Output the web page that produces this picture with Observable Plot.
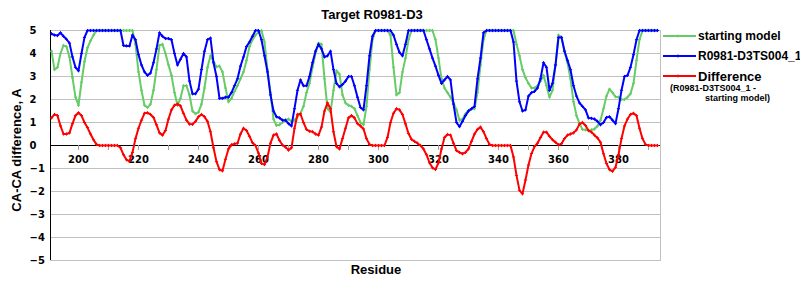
<!DOCTYPE html>
<html>
<head>
<meta charset="utf-8">
<script src="https://cdn.jsdelivr.net/npm/d3@7"></script>
<script src="https://cdn.jsdelivr.net/npm/@observablehq/plot@0.6"></script>
<style>
  html, body { margin: 0; padding: 0; background: #fff; }
  #wrap { position: relative; width: 800px; height: 300px; background: #fff; overflow: hidden; }
  #chart { position: absolute; left: 0; top: 0; }
  .lbl { position: absolute; font-family: "Liberation Sans", Arial, sans-serif; font-weight: bold; color: #000; white-space: nowrap; }
  #title { left: 272px; width: 200px; top: 8px; text-align: center; font-size: 13px; line-height: 14px; }
  #xlab { left: 326px; width: 100px; top: 263px; text-align: center; font-size: 13px; line-height: 14px; }
  #ylab { left: 17px; top: 150px; font-size: 13px; line-height: 14px; transform: translate(-50%, -50%) rotate(-90deg); }
  .legrow { position: absolute; left: 663px; display: flex; align-items: center; }
  .legrow svg { flex: none; }
  .legtext { margin-left: 1px; font-size: 12px; line-height: 13px; }
  .legsub { position: absolute; font-size: 9px; line-height: 10px; }
</style>
</head>
<body>
<div id="wrap">
  <div id="chart"></div>
  <div id="title" class="lbl"></div>
  <div id="ylab" class="lbl"></div>
  <div id="xlab" class="lbl"></div>
  <div id="legend"></div>
</div>
<script>
// ---------- data ----------
const titleText = "Target R0981-D3";
const yTitle = "CA-CA difference, A";
const xTitle = "Residue";
const firstResidue = 191;
const xDomain = [190.67, 394];
const yTicks = [-5, -4, -3, -2, -1, 0, 1, 2, 3, 4, 5];
const xMinorTicks = [200, 210, 220, 230, 240, 250, 260, 270, 280, 290, 300, 310, 320, 330, 340, 350, 360, 370, 380, 390];
const xLabels = [200, 220, 240, 260, 280, 300, 320, 340, 360, 380];

const seriesNames = ["starting model", "R0981-D3TS004_1", "Difference"];
const seriesColors = ["#66cc66", "#0000ff", "#ff0000"];
const diffSubLines = ["(R0981-D3TS004_1 -", "starting model)"];

// starting model (residues 191..393)
const startingModel = [
  4.1, 3.3, 3.4, 4.0, 4.35, 4.3, 3.85, 2.95, 2.1, 1.75,
  2.75, 3.65, 4.25, 4.55, 4.8, 5, 5, 5, 5, 5,
  5, 5, 5, 5, 5, 5, 5, 5, 4.4, 3.2,
  2.4, 1.75, 1.65, 1.8, 2.4, 3.3, 4.35, 4.4, 4.0, 3.5,
  3.05, 2.3, 1.75, 2.05, 2.6, 2.6, 2.2, 1.5, 1.38, 1.45,
  1.8, 2.5, 3.4, 3.9, 3.65, 3.42, 3.45, 3.2, 2.5, 1.9,
  2.05, 2.35, 2.6, 2.9, 3.2, 3.7, 4.3, 4.6, 4.8, 4.93,
  5, 4.5, 3.3, 2.3, 1.15, 0.87, 0.9, 1.0, 1.1, 1.15,
  1.05, 1.1, 1.25, 1.4, 1.7, 2.3, 2.7, 3.4, 4.0, 4.45,
  4.4, 2.9, 1.6, 1.45, 2.4, 3.25, 3.1, 2.2, 1.85, 1.75,
  1.7, 1.6, 1.3, 1.0, 0.9, 1.7, 3.3, 4.6, 5, 5,
  5, 5, 5, 4.8, 3.4, 2.2, 2.3, 3.2, 3.8, 4.6,
  5, 5, 5, 5, 5, 5, 5, 5, 4.6, 3.8,
  2.9, 2.5, 2.3, 2.1, 1.85, 1.55, 1.1, 1.15, 1.38, 1.52,
  1.59, 1.6, 2.3, 3.5, 4.6, 5, 5, 5, 5, 5,
  5, 5, 5, 5, 5, 4.4, 3.9, 3.3, 2.95, 2.7,
  2.5, 2.5, 2.6, 2.8, 3.05, 2.6, 2.1, 2.4, 3.5, 4.8,
  4.7, 4.1, 3.6, 2.9, 1.9, 1.3, 0.95, 0.7, 0.68, 0.65,
  0.68, 0.72, 0.85, 1.1, 1.6, 2.15, 2.45, 2.3, 2.12, 2.1,
  2.0, 2.0, 2.1, 2.25, 2.7, 3.7, 4.6, 5, 5, 5,
  5, 5, 5
];

// R0981-D3TS004_1 (residues 191..393)
const modelTS004 = [
  4.86, 4.8, 4.78, 4.9, 4.75, 4.62, 4.45, 3.85, 3.4, 3.25,
  4.0, 4.7, 5, 5, 5, 5, 5, 5, 5, 5,
  5, 5, 5, 5, 4.35, 4.33, 4.33, 4.8, 4.6, 3.95,
  3.5, 3.2, 3.05, 3.15, 3.6, 4.2, 4.9, 4.75, 4.65, 4.65,
  4.6, 4.0, 3.5, 3.75, 4.0, 3.85, 2.8, 2.25, 2.25, 2.45,
  3.3, 4.1, 4.6, 4.67, 3.6, 3.0, 2.05, 2.05, 2.1, 2.1,
  2.3, 2.6, 2.9, 3.45, 3.85, 4.3, 4.5, 4.75, 5, 5,
  4.6, 3.9, 3.2, 2.2, 1.5, 1.25, 1.2, 1.1, 1.1, 0.95,
  0.85, 1.6, 2.4, 2.85, 2.6, 2.6, 3.0, 3.6, 4.1, 4.4,
  4.2, 3.85, 3.9, 4.1, 3.3, 2.7, 2.55, 2.65, 2.8, 3.0,
  3.0, 2.6, 2.1, 1.65, 1.55, 2.6, 3.9, 4.75, 5, 5,
  5, 5, 5, 5, 4.8, 4.4, 4.05, 3.9, 4.4, 5,
  5, 5, 5, 5, 5, 4.6, 4.2, 3.8, 3.45, 3.05,
  2.7, 2.85, 3.0, 2.85, 1.8, 1.0, 0.82, 1.05, 1.3, 1.5,
  1.6, 1.7, 2.9, 3.8, 4.9, 5, 5, 5, 5, 5,
  5, 5, 5, 5, 4.5, 2.8, 1.9, 1.5, 1.55, 2.15,
  2.3, 2.35, 2.5, 2.9, 3.6, 3.4, 2.4, 2.7, 3.5, 4.7,
  4.7, 4.1, 3.7, 3.3, 2.6, 2.15, 1.85, 1.7, 1.55, 1.2,
  1.18, 1.15, 1.05, 0.9, 1.0, 1.22, 1.25, 1.1, 0.95, 1.6,
  2.4, 3.0, 3.05, 3.4, 3.95, 4.6, 5, 5, 5, 5,
  5, 5, 5
];

// Difference (R0981-D3TS004_1 - starting model), residues 191..393
const difference = [
  1.2, 1.35, 1.3, 0.85, 0.5, 0.5, 0.55, 0.95, 1.3, 1.42,
  1.3, 1.0, 0.78, 0.5, 0.25, 0.05, 0, 0, 0, 0,
  0, 0, 0, -0.1, -0.4, -0.62, -0.68, -0.3, 0.3, 0.75,
  1.1, 1.4, 1.42, 1.35, 1.22, 0.9, 0.55, 0.45, 0.65, 1.15,
  1.55, 1.75, 1.8, 1.72, 1.4, 1.1, 0.93, 0.92, 1.05, 1.25,
  1.35, 1.25, 1.05, 0.6, -0.1, -0.7, -1.05, -1.1, -0.6, -0.15,
  0.03, 0.07, 0.1, 0.5, 0.75, 0.65, 0.4, 0.12, 0, -0.33,
  -0.78, -0.83, -0.5, 0.1, 0.45, 0.5, 0.22, 0.02, -0.07, -0.2,
  -0.1, 0.75, 1.35, 1.37, 1.0, 0.7, 0.62, 0.6, 0.5, 0.45,
  0.8, 1.5, 1.85, 1.6, 0.6, -0.05, -0.15, 0.3, 0.75, 1.2,
  1.3, 1.2, 0.95, 0.85, 0.72, 0.3, 0.05, 0, 0, 0,
  0, 0, 0.35, 1.0, 1.4, 1.6, 1.55, 1.35, 0.94, 0.52,
  0.27, 0.18, 0.1, 0, -0.15, -0.4, -0.75, -0.97, -1.04, -0.75,
  -0.15, 0.35, 0.48, 0.45, 0.1, -0.22, -0.3, -0.36, -0.3, -0.15,
  0.18, 0.5, 0.7, 0.8, 0.6, 0.3, 0.05, 0, 0, 0,
  0, 0, 0, 0, -0.5, -1.3, -1.95, -2.1, -1.5, -0.85,
  -0.35, -0.05, 0.1, 0.35, 0.58, 0.58, 0.4, 0.25, 0.14, 0.03,
  0.08, 0.3, 0.45, 0.5, 0.55, 0.68, 0.93, 1.0, 0.87, 0.65,
  0.58, 0.45, 0.33, 0.14, -0.36, -0.78, -1.05, -1.12, -0.95, -0.4,
  0.3, 0.85, 1.15, 1.35, 1.4, 1.3, 0.75, 0.3, 0.05, 0,
  0, 0, 0
];

// ---------- build table ----------
const seriesValues = [startingModel, modelTS004, difference];
const table = seriesValues.map((vals, k) =>
  vals.map((v, i) => ({ r: firstResidue + i, v, s: seriesNames[k] }))
);

const tickFont = { fontFamily: "DejaVu Sans, sans-serif", fontSize: 10, fontWeight: "bold", fill: "#000" };
const fmt = d => (d < 0 ? "\u2212" + Math.abs(d) : String(d));

const lineMarks = table.flatMap((rows, k) => [
  Plot.line(rows, { x: "r", y: "v", stroke: seriesColors[k], strokeWidth: 2 }),
  Plot.dot(rows, { x: "r", y: "v", symbol: "plus", r: 1.1, stroke: seriesColors[k], strokeWidth: 1 })
]);

const chart = Plot.plot({
  width: 800,
  height: 300,
  marginLeft: 50,
  marginRight: 140,
  marginTop: 30,
  marginBottom: 40,
  style: { background: "transparent", overflow: "visible" },
  x: { domain: xDomain, axis: null },
  y: { domain: [yTicks[0], yTicks[yTicks.length - 1]], axis: null },
  marks: [
    Plot.ruleY(yTicks, { stroke: "#c0c0c0", strokeWidth: 1 }),
    Plot.frame({ stroke: "#c0c0c0" }),
    Plot.ruleX([xDomain[0]], { stroke: "#000", strokeWidth: 1 }),
    Plot.ruleY([0], { stroke: "#000", strokeWidth: 1 }),
    Plot.ruleX(xMinorTicks, { x: d => d, y1: 0, y2: 0, insetBottom: -5, stroke: "#a0a0a0", strokeWidth: 1 }),
    Plot.text(xLabels, { x: d => d, y: 0, dy: 14, text: d => String(d), ...tickFont }),
    Plot.text(yTicks, { y: d => d, frameAnchor: "left", dx: -21, textAnchor: "start", text: fmt, ...tickFont }),
    ...lineMarks
  ]
});
document.getElementById("chart").appendChild(chart);

document.getElementById("title").textContent = titleText;
document.getElementById("ylab").textContent = yTitle;
document.getElementById("xlab").textContent = xTitle;

// ---------- legend ----------
const legend = document.getElementById("legend");
const rowTops = [29, 49, 69];
seriesNames.forEach((name, k) => {
  const row = document.createElement("div");
  row.className = "legrow lbl";
  row.style.top = rowTops[k] + "px";
  row.style.height = "14px";
  const c = seriesColors[k];
  row.innerHTML =
    `<svg width="34" height="8" viewBox="0 0 34 8"><line x1="0" y1="4" x2="33" y2="4" stroke="${c}" stroke-width="2"/>` +
    `<line x1="15" y1="2.5" x2="15" y2="5.5" stroke="${c}" stroke-width="1"/></svg>` +
    `<span class="legtext" style="font-size:${k === 2 ? 13 : 12}px">${name}</span>`;
  legend.appendChild(row);
});
const sub1 = document.createElement("div");
sub1.className = "legsub lbl";
sub1.style.left = "670px"; sub1.style.top = "83px";
sub1.textContent = diffSubLines[0];
legend.appendChild(sub1);
const sub2 = document.createElement("div");
sub2.className = "legsub lbl";
sub2.style.left = "705px"; sub2.style.top = "93px";
sub2.textContent = diffSubLines[1];
legend.appendChild(sub2);
</script>
</body>
</html>
